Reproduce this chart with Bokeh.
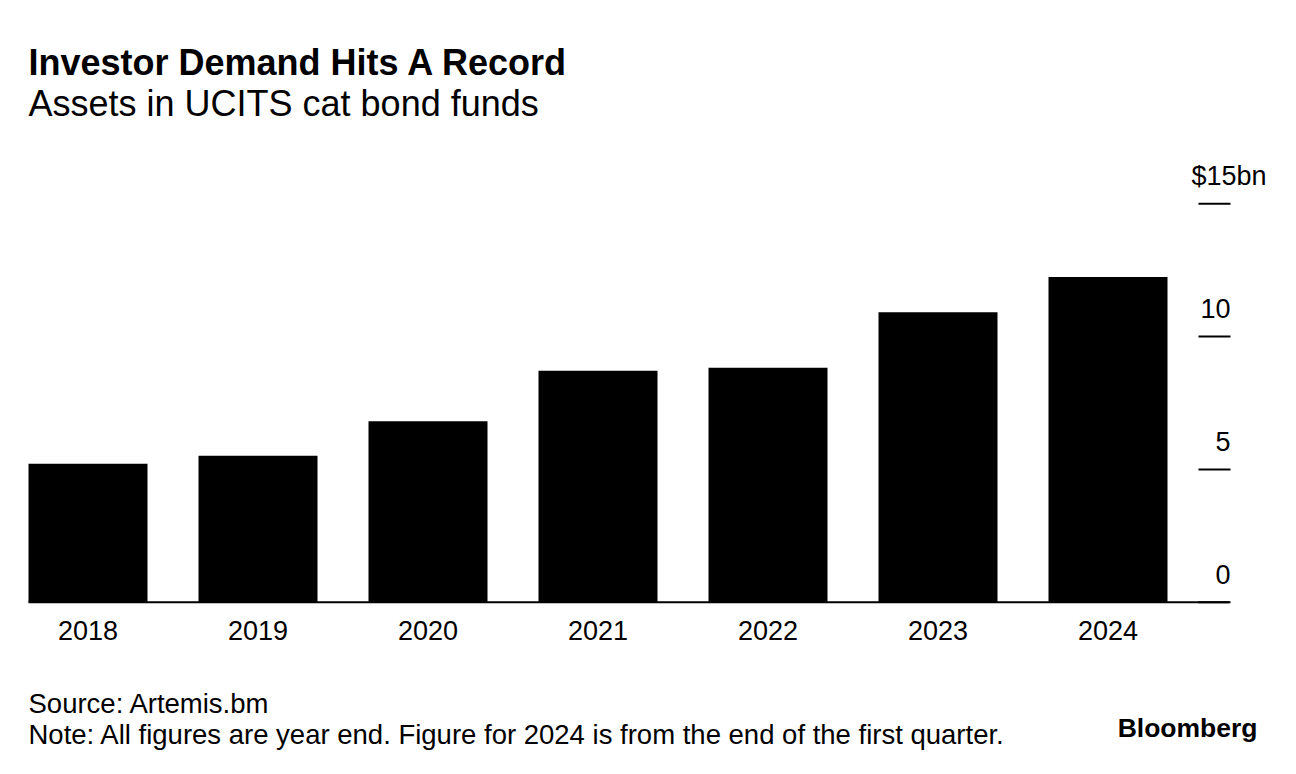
from bokeh.plotting import figure
from bokeh.models import Range1d
from bokeh.core.properties import value
from bokeh.embed import file_html
from bokeh.resources import INLINE

# ---- data ----
years = ["2018", "2019", "2020", "2021", "2022", "2023", "2024"]
assets_bn = [5.21, 5.51, 6.81, 8.71, 8.83, 10.92, 12.24]
y_ticks = [0, 5, 10, 15]
y_tick_labels = ["0", "5", "10", "$15bn"]

title_text = "Investor Demand Hits A Record"
subtitle_text = "Assets in UCITS cat bond funds"
source_text = "Source: Artemis.bm"
note_text = "Note: All figures are year end. Figure for 2024 is from the end of the first quarter."
brand_text = "Bloomberg"

FONT = "Liberation Sans"

# ---- layout (pixel geometry of the canvas) ----
W, H = 1296, 774
BASE_PY = 601.7        # pixel row of value 0
PX_PER_UNIT = 26.56    # pixels per $bn
FIRST_PX = 87.5        # pixel column of the first bar centre
STEP_PX = 170.0        # pixels between bar centres

def xd(px):
    return (px - FIRST_PX) / STEP_PX

def yd(py):
    return (BASE_PY - py) / PX_PER_UNIT

idx = list(range(len(years)))

p = figure(width=W, height=H, output_backend="svg", toolbar_location=None,
           x_range=Range1d(xd(0), xd(W)), y_range=Range1d(yd(H), yd(0)),
           min_border=0, x_axis_location=None, y_axis_location=None)
p.outline_line_color = None
p.grid.visible = False
p.background_fill_color = "white"
p.border_fill_color = "white"

# bars
p.vbar(x=idx, top=assets_bn, bottom=0, width=0.7, fill_color="black", line_color=None)

# baseline
p.segment(x0=[xd(28)], y0=[0], x1=[xd(1229)], y1=[0], line_color="black", line_width=2)

# y ticks (short marks on the right) and labels above them
p.segment(x0=[xd(1198)] * len(y_ticks), y0=y_ticks, x1=[xd(1230)] * len(y_ticks), y1=y_ticks,
          line_color="black", line_width=2)
num_ticks = [t for t, l in zip(y_ticks, y_tick_labels) if not l.startswith("$")]
num_labels = [l for l in y_tick_labels if not l.startswith("$")]
top_ticks = [t for t, l in zip(y_ticks, y_tick_labels) if l.startswith("$")]
top_labels = [l for l in y_tick_labels if l.startswith("$")]
p.text(x=[xd(1230)] * len(num_ticks), y=num_ticks, text=num_labels, y_offset=-28,
       text_align="right", text_baseline="alphabetic",
       text_font=value(FONT), text_font_size="27px", text_color="black")
p.text(x=[xd(1266)] * len(top_ticks), y=top_ticks, text=top_labels, y_offset=-28,
       text_align="right", text_baseline="alphabetic",
       text_font=value(FONT), text_font_size="27px", text_color="black")

# x category labels
p.text(x=idx, y=[0] * len(idx), text=years, y_offset=28,
       text_align="center", text_baseline="alphabetic",
       text_font=value(FONT), text_font_size="27px", text_color="black")

# titles
p.text(x=[xd(28)], y=[yd(62)], text=[title_text], text_align="left",
       text_baseline="alphabetic", text_font=value(FONT), text_font_style="bold",
       text_font_size="36px", text_color="black")
p.text(x=[xd(28)], y=[yd(103)], text=[subtitle_text], text_align="left",
       text_baseline="alphabetic", text_font=value(FONT),
       text_font_size="36px", text_color="black")

# footer
p.text(x=[xd(28)], y=[yd(703)], text=[source_text], text_align="left",
       text_baseline="alphabetic", text_font=value(FONT),
       text_font_size="27.5px", text_color="black")
p.text(x=[xd(28)], y=[yd(734)], text=[note_text], text_align="left",
       text_baseline="alphabetic", text_font=value(FONT),
       text_font_size="27.5px", text_color="black")
p.text(x=[xd(1257)], y=[yd(727)], text=[brand_text], text_align="right",
       text_baseline="alphabetic", text_font=value(FONT), text_font_style="bold",
       text_font_size="26.5px", text_color="black")

open("out.html", "w").write(file_html(p, INLINE))
